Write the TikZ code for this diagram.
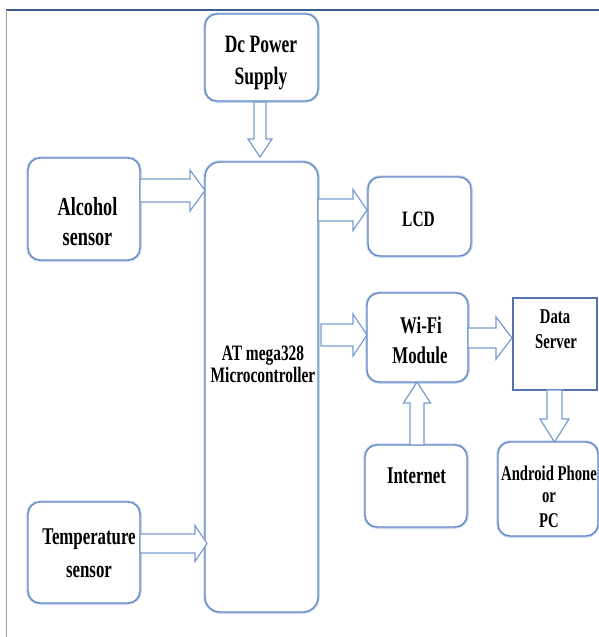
\documentclass[tikz,border=0pt]{standalone}
\usepackage{fontspec}
\newfontfamily\cfont[FakeStretch=0.7]{Liberation Serif}
\definecolor{frametop}{RGB}{58,94,140}
\definecolor{frameleft}{RGB}{160,160,168}
\definecolor{boxblue}{RGB}{100,138,200}
\definecolor{boxglow}{RGB}{200,214,236}
\definecolor{arrblue}{RGB}{120,156,210}
\newcommand\arrR[6]{%
  \draw[barrow] (#1,{#4-#5}) -- (#2,{#4-#5}) -- (#2,{#4-#6}) -- (#3,#4) -- (#2,{#4+#6}) -- (#2,{#4+#5}) -- (#1,{#4+#5}) -- cycle;}
\newcommand\arrV[6]{%
  \draw[barrow] ({#4-#5},#1) -- ({#4-#5},#2) -- ({#4-#6},#2) -- (#4,#3) -- ({#4+#6},#2) -- ({#4+#5},#2) -- ({#4+#5},#1) -- cycle;}
\begin{document}
\begin{tikzpicture}[x=1pt,y=-1pt,
  box/.style={draw=boxblue, line width=1.4pt, rounded corners=12pt, fill=white,
    preaction={draw=boxglow, line width=3.5pt}},
  sqbox/.style={draw=boxblue!85!black, line width=1.3pt, fill=white},
  barrow/.style={draw=arrblue, line width=1.2pt, fill=white, line join=miter},
  txt/.style={anchor=base, inner sep=0pt, font=\cfont\bfseries\fontsize{#1}{#1}\selectfont},
  txt/.default=24,
]
\useasboundingbox (0,0) rectangle (599,637);
\fill[white] (0,0) rectangle (599,637);
% frame
\draw[frametop, line width=2pt] (6,10) -- (599,10);
\draw[frameleft, line width=1.6pt] (6.5,10) -- (6.5,637);

% boxes
\draw[box] (205,14) rectangle (318,101);
\draw[box] (28,158) rectangle (140,260);
\draw[box] (28,502) rectangle (140,603);
\draw[box, rounded corners=15pt] (205,162) rectangle (318,612);
\draw[box] (368,177) rectangle (471,256);
\draw[box] (367,293) rectangle (468,382);
\draw[sqbox] (513,298) rectangle (597,390);
\draw[box] (365,445) rectangle (467,527);
\draw[box] (498,442) rectangle (598,536);

% arrows
\arrV{102}{139}{157}{260}{6}{12}
\arrR{140}{190}{205}{190.5}{11.5}{20.5}
\arrR{140}{195}{207}{543.5}{9.5}{18}
\arrR{318}{353}{367}{210}{11}{20.5}
\arrR{321}{353}{367}{335}{11}{21}
\arrR{468}{496}{512}{338}{10}{21}
\arrV{390}{419}{442}{554.5}{7.5}{14.5}
\arrV{445}{403}{382}{417}{7}{13.5}

% texts
\node[txt=25] (dc1) at (261,52) {Dc Power};
\node[txt=25] (dc2) at (261,84) {Supply};
\node[txt=26] (al1) at (87.5,215) {Alcohol};
\node[txt=26] (al2) at (87.5,245) {sensor};
\node[txt=24] (te1) at (89,544) {Temperature};
\node[txt=24] (te2) at (89,577) {sensor};
\node[txt=22] (mc1) at (263,360) {AT mega328};
\node[txt=22] (mc2) at (263,382) {Microcontroller};
\node[txt=22] (lcd) at (418.5,226) {LCD};
\node[txt=24] (wf1) at (421,333) {Wi-Fi};
\node[txt=24] (wf2) at (420,363) {Module};
\node[txt=21] (ds1) at (555,323) {Data};
\node[txt=21] (ds2) at (556,348) {Server};
\node[txt=24] (int) at (416.5,483) {Internet};
\node[txt=21] (an1) at (549,480) {Android Phone};
\node[txt=21] (an2) at (549,502) {or};
\node[txt=21] (an3) at (549,527) {PC};
\end{tikzpicture}
\end{document}
